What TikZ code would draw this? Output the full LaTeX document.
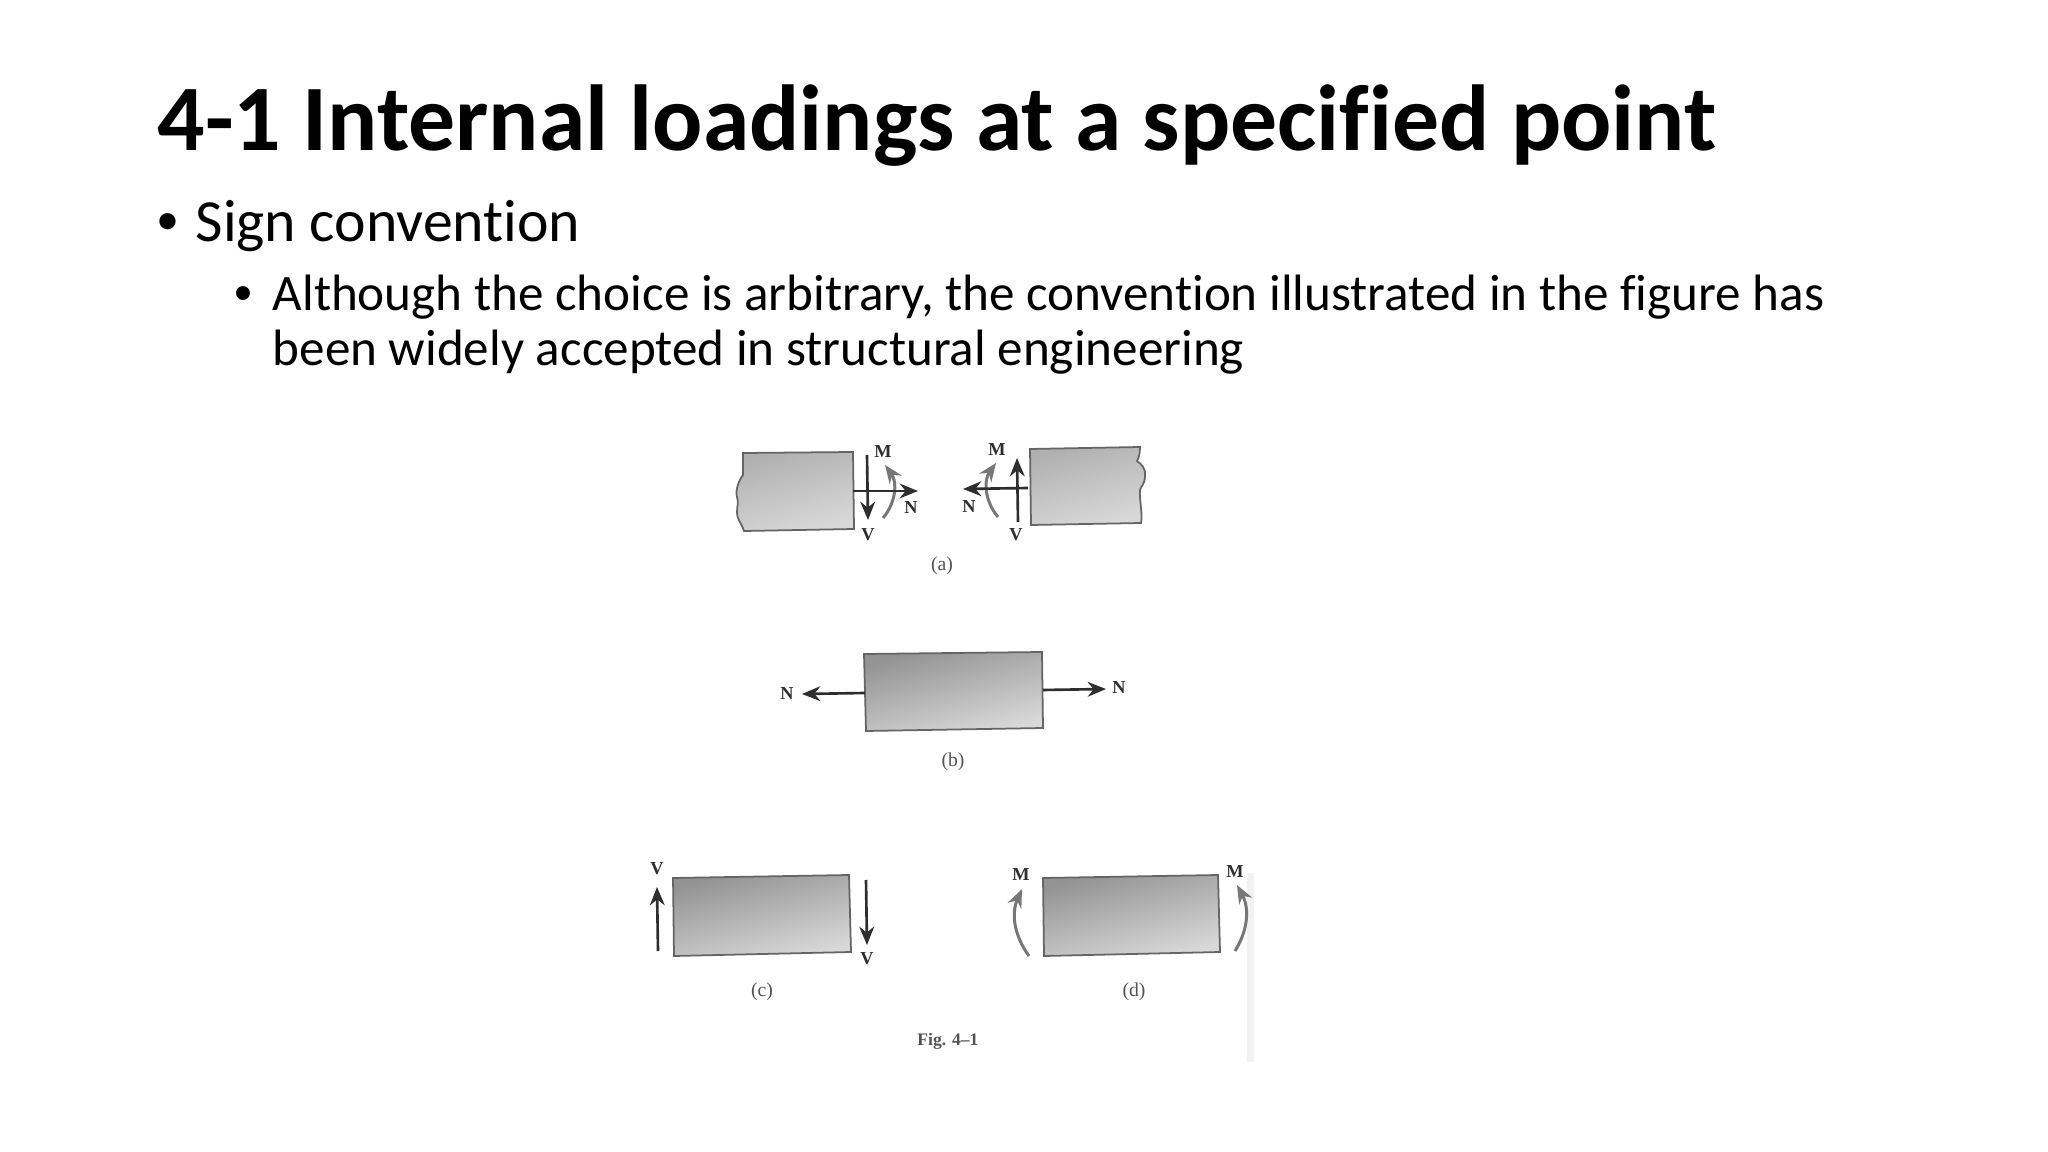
\documentclass[tikz,border=0pt]{standalone}
\usepackage{fontspec}
\setmainfont[Ligatures=NoCommon]{Carlito}
\newfontfamily\figfont{Liberation Serif}
\newfontfamily\dotfont{Liberation Sans}
\usetikzlibrary{arrows.meta}
\definecolor{inkdark}{HTML}{2E2E2E}
\definecolor{inkgray}{HTML}{777777}
\tikzset{
	slidetext/.style={anchor=base west, inner sep=0pt, text=black},
	blockfill/.style={draw=inkgray!85!black, line width=0.5pt, left color=#1, right color=gray!30, shading angle=15},
	blockfill/.default={gray!85},
	loadarrow/.style={draw=inkdark, line width=0.75pt, -{Stealth[length=5.2pt, width=4.2pt]}},
	momentarrow/.style={draw=inkgray, line width=0.85pt, -{Stealth[length=5.2pt, width=4.2pt]}},
	loadlabel/.style={inner sep=0pt, text=inkdark, font=\figfont\bfseries\fontsize{5.2}{6}\selectfont},
	caption/.style={inner sep=0pt, text=inkgray!70!black, font=\figfont\fontsize{5.6}{6}\selectfont},
}
\begin{document}
\begin{tikzpicture}[x=0.01cm, y=-0.01cm]
	\useasboundingbox[fill=white] (0,0) rectangle (2048,1152);
	% Slide text:
	\node[slidetext, font=\bfseries\fontsize{26.65}{30}\selectfont] (title) at (157,151) {4-1 Internal loadings at a specified point};
	\node[slidetext, font=\dotfont\fontsize{17}{20}\selectfont] (bulletA) at (157,242) {•};
	\node[slidetext, font=\fontsize{17}{20}\selectfont] (lineA) at (195,242) {Sign convention};
	\node[slidetext, font=\dotfont\fontsize{14.57}{17}\selectfont] (bulletB) at (234,311) {•};
	\node[slidetext, font=\fontsize{14.54}{17}\selectfont] (lineB) at (272,311) {Although the choice is arbitrary, the convention illustrated in the figure has};
	\node[slidetext, font=\fontsize{14.54}{17}\selectfont] (lineC) at (272,366) {been widely accepted in structural engineering};
	% Scan edge:
	\fill[gray!10] (1247,873) rectangle (1254,1062);
	% Figure (a):
	\shadedraw[blockfill=gray!62] (743,453) -- (853,452) -- (854,529) -- (744,531) .. controls (741,522) and (737,520) .. (737,512) .. controls (737,505) and (739,503) .. (737,497) .. controls (735,490) and (739,480) .. (743,475) -- cycle;
	\shadedraw[blockfill=gray!62] (1030,449) -- (1140,447) .. controls (1140,452) and (1139,458) .. (1137,461) .. controls (1141,464) and (1146,468) .. (1145,476) .. controls (1145,484) and (1141,486) .. (1140,490) .. controls (1139,498) and (1143,515) .. (1141,523) -- (1031,525) -- cycle;
	\node[loadlabel] (Ma) at (883,452) {M};
	\node[loadlabel] (Na) at (911,508) {N};
	\node[loadlabel] (Va) at (868,535) {V};
	\node[loadlabel] (Mb) at (997,450) {M};
	\node[loadlabel] (Nb) at (969,507) {N};
	\node[loadlabel] (Vb) at (1016,535) {V};
	\node[caption] (capA) at (942,566) {(a)};
	\coordinate (NaS) at (853,491); \coordinate (NaE) at (918,491);
	\coordinate (VaS) at (867,455); \coordinate (VaE) at (868,520);
	\coordinate (MaS) at (883,518); \coordinate (MaE) at (885,465);
	\coordinate (NbS) at (1028,488); \coordinate (NbE) at (963,489);
	\coordinate (VbS) at (1018,522); \coordinate (VbE) at (1017,458);
	\coordinate (MbS) at (998,517); \coordinate (MbE) at (996,463);
	\draw[momentarrow] (MaS) to[bend right=38] (MaE);
	\draw[momentarrow] (MbS) to[bend left=38] (MbE);
	\draw[loadarrow] (NaS) -- (NaE);
	\draw[loadarrow] (VaS) -- (VaE);
	\draw[loadarrow] (NbS) -- (NbE);
	\draw[loadarrow] (VbS) -- (VbE);
	% Figure (b):
	\shadedraw[blockfill] (864,654) -- (1042,652) -- (1043,728) -- (866,731) -- cycle;
	\node[loadlabel] (Nc) at (787,694) {N};
	\node[loadlabel] (Nd) at (1119,688) {N};
	\node[caption] (capB) at (953,762) {(b)};
	\coordinate (NcS) at (865,693); \coordinate (NcE) at (802,694);
	\coordinate (NdS) at (1043,690); \coordinate (NdE) at (1106,689);
	\draw[loadarrow] (NcS) -- (NcE);
	\draw[loadarrow] (NdS) -- (NdE);
	% Figure (c):
	\shadedraw[blockfill] (673,878) -- (849,875) -- (851,952) -- (674,956) -- cycle;
	\node[loadlabel] (Ve) at (657,869) {V};
	\node[loadlabel] (Vf) at (867,959) {V};
	\node[caption] (capC) at (762,992) {(c)};
	\coordinate (VeS) at (658,951); \coordinate (VeE) at (657,887);
	\coordinate (VfS) at (866,880); \coordinate (VfE) at (867,945);
	\draw[loadarrow] (VeS) -- (VeE);
	\draw[loadarrow] (VfS) -- (VfE);
	% Figure (d):
	\shadedraw[blockfill] (1043,878) -- (1218,875) -- (1220,952) -- (1044,956) -- cycle;
	\node[loadlabel] (Me) at (1021,875) {M};
	\node[loadlabel] (Mf) at (1235,872) {M};
	\node[caption] (capD) at (1134,992) {(d)};
	\coordinate (MeS) at (1029,956); \coordinate (MeE) at (1022,889);
	\coordinate (MfS) at (1235,951); \coordinate (MfE) at (1237,885);
	\draw[momentarrow] (MeS) to[bend left=30] (MeE);
	\draw[momentarrow] (MfS) to[bend right=30] (MfE);
	\node[caption, font=\figfont\bfseries\fontsize{5}{6}\selectfont] (figno) at (948,1041) {Fig. 4–1};
\end{tikzpicture}
\end{document}
